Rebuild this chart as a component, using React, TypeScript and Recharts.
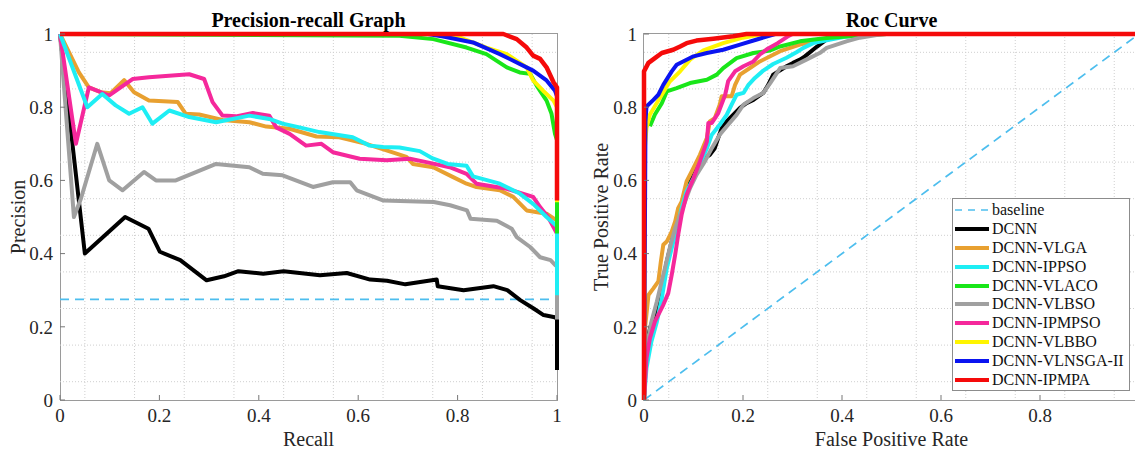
import React from 'react';
import { LineChart, Line, XAxis, YAxis, CartesianGrid } from 'recharts';

type Pt = [number, number];

// ---- Precision-recall curves (recall, precision) ----
const prBaseline: Pt[] = [[0, 0.275], [1, 0.275]];
const prDcnn: Pt[] = [
  [0, 1], [0.05, 0.4], [0.131, 0.5], [0.178, 0.468], [0.201, 0.405], [0.242, 0.382], [0.295, 0.327],
  [0.33, 0.338], [0.359, 0.352], [0.409, 0.345], [0.45, 0.352], [0.523, 0.341], [0.577, 0.347],
  [0.624, 0.329], [0.658, 0.326], [0.695, 0.316], [0.758, 0.329], [0.76, 0.311], [0.812, 0.3],
  [0.872, 0.311], [0.9, 0.3], [0.926, 0.273], [0.953, 0.25], [0.973, 0.232], [0.993, 0.227],
  [1, 0.223], [1, 0.082],
];
const prVlga: Pt[] = [
  [0, 1], [0.038, 0.895], [0.058, 0.854], [0.082, 0.841], [0.102, 0.838], [0.129, 0.874], [0.149, 0.841],
  [0.179, 0.818], [0.237, 0.814], [0.253, 0.782], [0.28, 0.78], [0.327, 0.765], [0.381, 0.759],
  [0.415, 0.747], [0.462, 0.741], [0.516, 0.72], [0.562, 0.718], [0.616, 0.7], [0.657, 0.682],
  [0.697, 0.664], [0.71, 0.645], [0.751, 0.636], [0.791, 0.609], [0.818, 0.591], [0.838, 0.582],
  [0.885, 0.573], [0.912, 0.555], [0.939, 0.518], [0.979, 0.509], [1, 0.49],
];
const prIppso: Pt[] = [
  [0, 1], [0.055, 0.8], [0.085, 0.836], [0.112, 0.805], [0.139, 0.782], [0.166, 0.8], [0.186, 0.755],
  [0.22, 0.791], [0.26, 0.773], [0.314, 0.759], [0.381, 0.777], [0.421, 0.768], [0.448, 0.755],
  [0.482, 0.745], [0.522, 0.732], [0.589, 0.718], [0.623, 0.695], [0.65, 0.691], [0.683, 0.69],
  [0.724, 0.68], [0.75, 0.66], [0.78, 0.645], [0.818, 0.64], [0.831, 0.611], [0.885, 0.591],
  [0.925, 0.564], [0.952, 0.536], [0.979, 0.5], [1, 0.475], [1, 0.286],
];
const prVlaco: Pt[] = [
  [0, 1], [0.683, 0.995], [0.751, 0.986], [0.818, 0.963], [0.858, 0.945], [0.899, 0.909], [0.925, 0.895],
  [0.946, 0.891], [0.959, 0.859], [0.979, 0.818], [0.989, 0.782], [0.996, 0.727], [1, 0.71], [1, 0.455],
];
const prVlbso: Pt[] = [
  [0, 1], [0.028, 0.5], [0.042, 0.55], [0.075, 0.7], [0.099, 0.6], [0.126, 0.573], [0.169, 0.623],
  [0.193, 0.6], [0.233, 0.6], [0.314, 0.645], [0.381, 0.636], [0.408, 0.618], [0.448, 0.614],
  [0.509, 0.582], [0.549, 0.595], [0.584, 0.595], [0.597, 0.573], [0.651, 0.545], [0.752, 0.541],
  [0.785, 0.532], [0.819, 0.518], [0.826, 0.495], [0.879, 0.49], [0.909, 0.468], [0.919, 0.445],
  [0.946, 0.418], [0.966, 0.39], [0.987, 0.382], [0.997, 0.368], [1, 0.368], [1, 0.22],
];
const prIpmpso: Pt[] = [
  [0, 1], [0.032, 0.7], [0.058, 0.854], [0.099, 0.832], [0.146, 0.877], [0.179, 0.882], [0.26, 0.89],
  [0.29, 0.877], [0.307, 0.814], [0.327, 0.777], [0.354, 0.775], [0.388, 0.784], [0.421, 0.777],
  [0.435, 0.745], [0.462, 0.727], [0.495, 0.695], [0.526, 0.7], [0.549, 0.677], [0.603, 0.659],
  [0.657, 0.655], [0.704, 0.659], [0.737, 0.65], [0.784, 0.636], [0.818, 0.618], [0.838, 0.591],
  [0.899, 0.577], [0.952, 0.555], [0.966, 0.527], [0.982, 0.5], [1, 0.455],
];
const prVlbbo: Pt[] = [
  [0, 1], [0.76, 1], [0.804, 0.991], [0.858, 0.963], [0.899, 0.945], [0.939, 0.909], [0.952, 0.873],
  [0.972, 0.845], [0.993, 0.818], [1, 0.8], [1, 0.54],
];
const prVlnsga: Pt[] = [
  [0, 1], [0.74, 1], [0.771, 0.993], [0.831, 0.977], [0.885, 0.945], [0.912, 0.927], [0.952, 0.9],
  [0.979, 0.873], [0.996, 0.845], [1, 0.83],
];
const prIpmpa: Pt[] = [
  [0, 1], [0.892, 1], [0.919, 0.986], [0.939, 0.963], [0.952, 0.941], [0.966, 0.932], [0.979, 0.909],
  [0.993, 0.868], [1, 0.854], [1, 0.545],
];

// ---- ROC curves (false positive rate, true positive rate) ----
const rocBaseline: Pt[] = [[0, 0], [1, 1]];
const rocDcnn: Pt[] = [
  [0, 0], [0.004, 0.141], [0.012, 0.196], [0.019, 0.223], [0.029, 0.26], [0.036, 0.305], [0.046, 0.378],
  [0.056, 0.433], [0.066, 0.488], [0.076, 0.533], [0.086, 0.579], [0.1, 0.624], [0.113, 0.652],
  [0.133, 0.67], [0.143, 0.688], [0.15, 0.716], [0.157, 0.743], [0.167, 0.761], [0.18, 0.779],
  [0.194, 0.798], [0.207, 0.811], [0.221, 0.82], [0.241, 0.839], [0.251, 0.861], [0.261, 0.889],
  [0.288, 0.912], [0.301, 0.921], [0.315, 0.93], [0.325, 0.939], [0.349, 0.965], [0.369, 0.985],
  [0.39, 1], [1, 1],
];
const rocVlga: Pt[] = [
  [0, 0], [0.002, 0.196], [0.009, 0.287], [0.019, 0.305], [0.029, 0.324], [0.034, 0.378], [0.039, 0.424],
  [0.046, 0.433], [0.056, 0.46], [0.063, 0.488], [0.069, 0.524], [0.076, 0.542], [0.086, 0.597],
  [0.1, 0.634], [0.113, 0.67], [0.127, 0.716], [0.133, 0.761], [0.143, 0.77], [0.153, 0.807],
  [0.157, 0.83], [0.177, 0.83], [0.184, 0.861], [0.194, 0.889], [0.214, 0.907], [0.234, 0.925],
  [0.255, 0.939], [0.275, 0.953], [0.315, 0.971], [0.356, 0.985], [0.403, 0.994], [0.436, 1], [1, 1],
];
const rocIppso: Pt[] = [
  [0, 0], [0.005, 0.087], [0.015, 0.16], [0.026, 0.214], [0.036, 0.278], [0.046, 0.36], [0.056, 0.415],
  [0.066, 0.469], [0.076, 0.524], [0.086, 0.57], [0.1, 0.606], [0.113, 0.643], [0.127, 0.688],
  [0.137, 0.725], [0.153, 0.752], [0.167, 0.779], [0.177, 0.807], [0.187, 0.834], [0.201, 0.839],
  [0.211, 0.861], [0.224, 0.88], [0.241, 0.9], [0.261, 0.918], [0.288, 0.935], [0.308, 0.95],
  [0.322, 0.962], [0.342, 0.975], [0.369, 0.983], [0.403, 0.992], [0.436, 0.997], [0.463, 1], [1, 1],
];
const rocVlaco: Pt[] = [
  [0.012, 0.748], [0.022, 0.78], [0.036, 0.811], [0.046, 0.843], [0.066, 0.852], [0.093, 0.866],
  [0.127, 0.875], [0.147, 0.889], [0.16, 0.907], [0.187, 0.934], [0.221, 0.948], [0.255, 0.955],
  [0.275, 0.966], [0.315, 0.98], [0.369, 0.989], [0.436, 0.996], [0.49, 1], [1, 1],
];
const rocVlbso: Pt[] = [
  [0, 0], [0.005, 0.141], [0.015, 0.214], [0.026, 0.269], [0.039, 0.342], [0.052, 0.415], [0.063, 0.469],
  [0.073, 0.506], [0.083, 0.542], [0.093, 0.579], [0.106, 0.615], [0.123, 0.652], [0.137, 0.688],
  [0.153, 0.725], [0.17, 0.752], [0.187, 0.779], [0.201, 0.807], [0.221, 0.825], [0.241, 0.839],
  [0.255, 0.866], [0.275, 0.907], [0.301, 0.912], [0.328, 0.93], [0.355, 0.948], [0.369, 0.962],
  [0.389, 0.971], [0.409, 0.98], [0.436, 0.99], [0.47, 0.997], [0.49, 1], [1, 1],
];
const rocIpmpso: Pt[] = [
  [0, 0], [0.005, 0.114], [0.012, 0.169], [0.022, 0.214], [0.039, 0.26], [0.049, 0.292], [0.056, 0.342],
  [0.063, 0.397], [0.069, 0.451], [0.076, 0.506], [0.086, 0.561], [0.1, 0.606], [0.113, 0.652],
  [0.127, 0.706], [0.13, 0.757], [0.137, 0.757], [0.15, 0.784], [0.164, 0.834], [0.17, 0.871],
  [0.184, 0.898], [0.201, 0.912], [0.221, 0.925], [0.234, 0.944], [0.25, 0.96], [0.27, 0.975],
  [0.29, 0.993], [0.3, 1], [1, 1],
];
const rocVlbbo: Pt[] = [
  [0, 0], [0.002, 0.693], [0.005, 0.743], [0.012, 0.78], [0.032, 0.825], [0.052, 0.87], [0.073, 0.898],
  [0.093, 0.93], [0.12, 0.955], [0.16, 0.975], [0.2, 0.99], [0.24, 1], [1, 1],
];
const rocVlnsga: Pt[] = [
  [0, 0], [0.003, 0.76], [0.005, 0.802], [0.019, 0.82], [0.029, 0.834], [0.039, 0.861], [0.056, 0.898],
  [0.066, 0.916], [0.079, 0.925], [0.1, 0.939], [0.127, 0.948], [0.16, 0.957], [0.194, 0.971],
  [0.228, 0.985], [0.251, 0.994], [0.265, 1], [1, 1],
];
const rocIpmpa: Pt[] = [
  [0, 0], [0, 0.898], [0.009, 0.921], [0.022, 0.934], [0.036, 0.948], [0.059, 0.957], [0.073, 0.966],
  [0.086, 0.975], [0.106, 0.982], [0.14, 0.987], [0.18, 0.994], [0.207, 1], [1, 1],
];

const axisTicks = [0, 0.2, 0.4, 0.6, 0.8, 1];
const rocXTicks = [0, 0.2, 0.4, 0.6, 0.8]; // the "1" falls outside the picture
const gridValues = [
  0.05, 0.1, 0.15, 0.2, 0.25, 0.3, 0.35, 0.4, 0.45, 0.5, 0.55, 0.6, 0.65, 0.7, 0.75, 0.8, 0.85, 0.9, 0.95,
];

interface Series {
  name: string;
  color: string;
  pr: Pt[];
  roc: Pt[];
  dashed?: boolean;
}

// legend order
const SERIES: Series[] = [
  { name: 'baseline', color: '#4DBEEE', pr: prBaseline, roc: rocBaseline, dashed: true },
  { name: 'DCNN', color: '#000000', pr: prDcnn, roc: rocDcnn },
  { name: 'DCNN-VLGA', color: '#E8A030', pr: prVlga, roc: rocVlga },
  { name: 'DCNN-IPPSO', color: '#1EEEF4', pr: prIppso, roc: rocIppso },
  { name: 'DCNN-VLACO', color: '#19E619', pr: prVlaco, roc: rocVlaco },
  { name: 'DCNN-VLBSO', color: '#A0A0A0', pr: prVlbso, roc: rocVlbso },
  { name: 'DCNN-IPMPSO', color: '#F5289B', pr: prIpmpso, roc: rocIpmpso },
  { name: 'DCNN-VLBBO', color: '#FFF500', pr: prVlbbo, roc: rocVlbbo },
  { name: 'DCNN-VLNSGA-II', color: '#0A14F0', pr: prVlnsga, roc: rocVlnsga },
  { name: 'DCNN-IPMPA', color: '#F50A0A', pr: prIpmpa, roc: rocIpmpa },
];

// drawing order (last one on top)
const prOrder = ['baseline', 'DCNN', 'DCNN-VLBSO', 'DCNN-VLGA', 'DCNN-IPMPSO', 'DCNN-IPPSO',
  'DCNN-VLACO', 'DCNN-VLBBO', 'DCNN-VLNSGA-II', 'DCNN-IPMPA'];
const rocOrder = ['baseline', 'DCNN', 'DCNN-VLGA', 'DCNN-IPPSO', 'DCNN-VLACO', 'DCNN-VLBSO',
  'DCNN-IPMPSO', 'DCNN-VLBBO', 'DCNN-VLNSGA-II', 'DCNN-IPMPA'];

const FONT = '"Liberation Serif", "Times New Roman", Times, serif';
const TEXT = '#262626';

const toRows = (pts: Pt[]) => pts.map(([x, y]) => ({ x, y }));

interface CurveChartProps {
  kind: 'pr' | 'roc';
  order: string[];
  xTicks: number[];
  width: number;
  yAxisWidth: number;
  marginRight: number;
}

const CurveChart: React.FC<CurveChartProps> = ({ kind, order, xTicks, width, yAxisWidth, marginRight }) => {
  const tickStyle = { fontSize: 19, fill: TEXT, fontFamily: FONT };
  // negative tick size -> MATLAB-style inward ticks
  return (
    <LineChart width={width} height={450} margin={{ top: 34, right: marginRight, bottom: 0, left: 0 }}>
      <CartesianGrid
        horizontalValues={gridValues}
        verticalValues={gridValues}
        stroke="#cfcfcf"
        strokeDasharray="1 2"
      />
      <XAxis
        dataKey="x"
        type="number"
        domain={[0, 1]}
        ticks={xTicks}
        tickFormatter={(v: number) => String(v)}
        axisLine={false}
        tickLine={{ stroke: '#777' }}
        tickSize={-5}
        tickMargin={14}
        height={50}
        tick={tickStyle}
      />
      <YAxis
        type="number"
        domain={[0, 1]}
        ticks={axisTicks}
        tickFormatter={(v: number) => String(v)}
        axisLine={false}
        tickLine={{ stroke: '#777' }}
        tickSize={-5}
        tickMargin={12}
        width={yAxisWidth}
        tick={tickStyle}
      />
      {order.map((name) => {
        const s = SERIES.find((d) => d.name === name)!;
        return (
          <Line
            key={name}
            data={toRows(kind === 'pr' ? s.pr : s.roc)}
            dataKey="y"
            type="linear"
            stroke={s.color}
            strokeWidth={s.dashed ? 1.7 : name === 'DCNN-IPMPA' ? 4.5 : 4}
            strokeDasharray={s.dashed ? '9 6' : undefined}
            strokeLinejoin="round"
            dot={false}
            activeDot={false}
            isAnimationActive={false}
          />
        );
      })}
    </LineChart>
  );
};

const abs = (style: React.CSSProperties): React.CSSProperties => ({ position: 'absolute', ...style });

export default function App() {
  return (
    <div style={abs({ left: 0, top: 0, width: 1135, height: 450, overflow: 'hidden', background: '#fff', fontFamily: FONT, color: TEXT })}>
      {/* axes boxes */}
      <div style={abs({ left: 60, top: 33, width: 498, height: 368, boxSizing: 'border-box', border: '1px solid #9a9a9a' })} />
      <div style={abs({ left: 643, top: 33, width: 520, height: 368, boxSizing: 'border-box', border: '1px solid #9a9a9a' })} />

      <div style={abs({ left: 0, top: 0 })}>
        <CurveChart kind="pr" order={prOrder} xTicks={axisTicks} width={570} yAxisWidth={60} marginRight={13} />
      </div>
      <div style={abs({ left: 570, top: 0 })}>
        <CurveChart kind="roc" order={rocOrder} xTicks={rocXTicks} width={580} yAxisWidth={74} marginRight={11} />
      </div>

      {/* titles */}
      <div style={abs({ left: 60, top: 10, width: 497, textAlign: 'center', fontSize: 20, lineHeight: '20px', fontWeight: 'bold', color: '#000' })}>
        Precision-recall Graph
      </div>
      <div style={abs({ left: 644, top: 10, width: 495, textAlign: 'center', fontSize: 20, lineHeight: '20px', fontWeight: 'bold', color: '#000' })}>
        Roc Curve
      </div>

      {/* axis labels */}
      <div style={abs({ left: 60, top: 429, width: 497, textAlign: 'center', fontSize: 20, lineHeight: '20px' })}>Recall</div>
      <div style={abs({ left: 644, top: 429, width: 495, textAlign: 'center', fontSize: 20, lineHeight: '20px' })}>False Positive Rate</div>
      <div style={abs({ left: -82, top: 207, width: 200, height: 20, textAlign: 'center', fontSize: 20, lineHeight: '20px', transform: 'rotate(-90deg)' })}>
        Precision
      </div>
      <div style={abs({ left: 501, top: 207, width: 200, height: 20, textAlign: 'center', fontSize: 20, lineHeight: '20px', transform: 'rotate(-90deg)' })}>
        True Positive Rate
      </div>

      {/* legend */}
      <div style={abs({ left: 952, top: 198, width: 178, height: 193, boxSizing: 'border-box', border: '1px solid #8c8c8c', background: '#fff', paddingTop: 2, fontSize: 16, color: '#111' })}>
        {SERIES.map((s) => (
          <div key={s.name} style={{ height: 18.8, display: 'flex', alignItems: 'center', paddingLeft: 2 }}>
            <svg width={34} height={8} style={{ flex: 'none' }}>
              <line
                x1={0}
                y1={4}
                x2={34}
                y2={4}
                stroke={s.color}
                strokeWidth={s.dashed ? 1.7 : 4}
                strokeDasharray={s.dashed ? '7 6' : undefined}
              />
            </svg>
            <span style={{ marginLeft: 3, lineHeight: '16px', whiteSpace: 'nowrap' }}>{s.name}</span>
          </div>
        ))}
      </div>
    </div>
  );
}
